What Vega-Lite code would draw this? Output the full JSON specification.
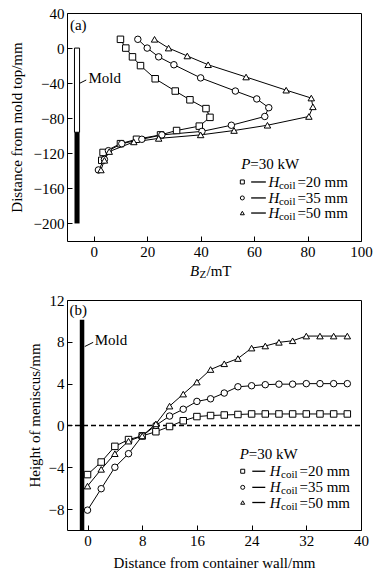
{
  "$schema": "https://vega.github.io/schema/vega-lite/v6.json",
  "padding": {"left": 8, "top": 5, "right": 4, "bottom": 0},
  "spacing": 11,
  "background": "white",
  "config": {
    "font": "Liberation Serif",
    "view": {"stroke": "black", "strokeWidth": 1},
    "axis": {"domain": false, "grid": false, "tickSize": -5, "tickColor": "black", "labelPadding": 8, "labelFontSize": 15, "labelColor": "black", "labelFont": "Liberation Serif", "titleFont": "Liberation Serif", "titleFontSize": 15, "titleFontWeight": "normal", "titleColor": "black", "labelFlush": false, "labelOverlap": false, "labelBound": false},
    "text": {"font": "Liberation Serif", "fontSize": 15, "color": "black"}
  },
  "resolve": {"scale": {"x": "independent", "y": "independent"}},
  "vconcat": [
    {
      "width": 294,
      "height": 228,
      "encoding": {
        "x": {"field": "x", "type": "quantitative", "scale": {"domain": [-10, 100], "nice": false, "zero": false}, "axis": {"title": null, "values": [0, 20, 40, 60, 80, 100]}},
        "y": {"field": "y", "type": "quantitative", "scale": {"domain": [-220, 40], "nice": false, "zero": false}, "axis": {"title": "Distance from mold top/mm", "values": [-200, -160, -120, -80, -40, 0, 40], "titlePadding": 9}}
      },
      "layer": [
        {
          "data": {"values": [{"x": -7.2, "x2": -5.3, "y": 0, "y2": -96}]},
          "mark": {"type": "rect", "fill": "white", "stroke": "black", "strokeWidth": 1},
          "encoding": {"x2": {"field": "x2"}, "y2": {"field": "y2"}}
        },
        {
          "data": {"values": [{"x": -7.2, "x2": -5.3, "y": -96, "y2": -200}]},
          "mark": {"type": "rect", "fill": "black"},
          "encoding": {"x2": {"field": "x2"}, "y2": {"field": "y2"}}
        },
        {
          "data": {"name": "bz"},
          "mark": {"type": "line", "color": "black", "strokeWidth": 1},
          "encoding": {"detail": {"field": "s"}, "order": {"field": "i", "type": "quantitative"}}
        },
        {
          "data": {"name": "bz"},
          "mark": {"type": "point", "filled": true, "fill": "white", "stroke": "black", "strokeWidth": 1, "size": 42, "opacity": 1},
          "encoding": {"shape": {"field": "s", "type": "nominal", "scale": {"domain": ["20", "35", "50"], "range": ["square", "circle", "triangle-up"]}, "legend": null}}
        },
        {
          "data": {"values": [{"x": -5.3, "x2": -2.8, "y": -40.2, "y2": -36.4}]},
          "mark": {"type": "rule", "color": "black", "strokeWidth": 1},
          "encoding": {"x2": {"field": "x2"}, "y2": {"field": "y2"}}
        },
        {
          "data": {"values": [{"x": -5.8, "y": 26.4, "t": "(a)"}]},
          "mark": {"type": "text", "align": "center", "baseline": "middle"},
          "encoding": {"text": {"field": "t"}}
        },
        {
          "data": {"values": [{"x": -2.0, "y": -34, "t": "Mold"}, {"x": 58.6, "y": -132.2, "t": "=30 kW"}, {"x": 76.2, "y": -152.7, "t": "=20 mm"}, {"x": 76.2, "y": -170.9, "t": "=35 mm"}, {"x": 76.2, "y": -188.1, "t": "=50 mm"}, {"x": 42.2, "y": -254.5, "t": "/mT"}]},
          "mark": {"type": "text", "align": "left", "baseline": "middle"},
          "encoding": {"text": {"field": "t"}}
        },
        {
          "data": {"values": [{"x": 55.2, "y": -132.2, "t": "P"}, {"x": 65.4, "y": -152.7, "t": "H"}, {"x": 65.4, "y": -170.9, "t": "H"}, {"x": 65.4, "y": -188.1, "t": "H"}, {"x": 36.0, "y": -254.5, "t": "B"}]},
          "mark": {"type": "text", "align": "left", "baseline": "middle", "fontStyle": "italic"},
          "encoding": {"text": {"field": "t"}}
        },
        {
          "data": {"values": [{"x": 69.3, "y": -152.7, "t": "coil"}, {"x": 69.3, "y": -170.9, "t": "coil"}, {"x": 69.3, "y": -188.1, "t": "coil"}, {"x": 39.6, "y": -254.5, "t": "Z"}]},
          "mark": {"type": "text", "align": "left", "baseline": "middle", "fontSize": 11, "dy": 4},
          "encoding": {"text": {"field": "t"}}
        },
        {
          "data": {"values": [{"x": 58.9, "x2": 64.4, "y": -152.7}, {"x": 58.9, "x2": 64.4, "y": -170.9}, {"x": 58.9, "x2": 64.4, "y": -188.1}]},
          "mark": {"type": "rule", "color": "black", "strokeWidth": 1.3},
          "encoding": {"x2": {"field": "x2"}}
        },
        {
          "data": {"values": [{"s": "20", "x": 55.6, "y": -152.7}, {"s": "35", "x": 55.6, "y": -170.9}, {"s": "50", "x": 55.6, "y": -188.1}]},
          "mark": {"type": "point", "filled": true, "fill": "white", "stroke": "black", "strokeWidth": 1, "size": 16, "opacity": 1},
          "encoding": {"shape": {"field": "s", "type": "nominal", "legend": null}}
        }
      ]
    },
    {
      "width": 294,
      "height": 230,
      "encoding": {
        "x": {"field": "x", "type": "quantitative", "scale": {"domain": [-3, 40], "nice": false, "zero": false}, "axis": {"title": "Distance from container wall/mm", "values": [0, 8, 16, 24, 32, 40], "titlePadding": 7}},
        "y": {"field": "y", "type": "quantitative", "scale": {"domain": [-10, 12], "nice": false, "zero": false}, "axis": {"title": "Height of meniscus/mm", "values": [-8, -4, 0, 4, 8, 12], "titlePadding": 6}}
      },
      "layer": [
        {
          "data": {"values": [{"x": -3, "x2": 40, "y": 0}]},
          "mark": {"type": "rule", "color": "black", "strokeWidth": 1.6, "strokeDash": [5, 3]},
          "encoding": {"x2": {"field": "x2"}}
        },
        {
          "data": {"values": [{"x": -0.8, "y": -10, "y2": 10.1}]},
          "mark": {"type": "rule", "color": "black", "strokeWidth": 4.5},
          "encoding": {"y2": {"field": "y2"}}
        },
        {
          "data": {"values": [{"x": -0.4, "x2": 0.83, "y": 7.55, "y2": 7.95}]},
          "mark": {"type": "rule", "color": "black", "strokeWidth": 1},
          "encoding": {"x2": {"field": "x2"}, "y2": {"field": "y2"}}
        },
        {
          "data": {"name": "hm"},
          "mark": {"type": "line", "color": "black", "strokeWidth": 1},
          "encoding": {"detail": {"field": "s"}, "order": {"field": "x", "type": "quantitative"}}
        },
        {
          "data": {"name": "hm"},
          "mark": {"type": "point", "filled": true, "fill": "white", "stroke": "black", "strokeWidth": 1, "size": 42, "opacity": 1},
          "encoding": {"shape": {"field": "s", "type": "nominal", "scale": {"domain": ["20", "35", "50"], "range": ["square", "circle", "triangle-up"]}, "legend": null}}
        },
        {
          "data": {"values": [{"x": -1.35, "y": 11.0, "t": "(b)"}]},
          "mark": {"type": "text", "align": "center", "baseline": "middle"},
          "encoding": {"text": {"field": "t"}}
        },
        {
          "data": {"values": [{"x": 1.06, "y": 8.2, "t": "Mold"}, {"x": 23.6, "y": -2.75, "t": "=30 kW"}, {"x": 31.0, "y": -4.38, "t": "=20 mm"}, {"x": 31.0, "y": -5.92, "t": "=35 mm"}, {"x": 31.0, "y": -7.37, "t": "=50 mm"}]},
          "mark": {"type": "text", "align": "left", "baseline": "middle"},
          "encoding": {"text": {"field": "t"}}
        },
        {
          "data": {"values": [{"x": 22.25, "y": -2.75, "t": "P"}, {"x": 26.66, "y": -4.38, "t": "H"}, {"x": 26.66, "y": -5.92, "t": "H"}, {"x": 26.66, "y": -7.37, "t": "H"}]},
          "mark": {"type": "text", "align": "left", "baseline": "middle", "fontStyle": "italic"},
          "encoding": {"text": {"field": "t"}}
        },
        {
          "data": {"values": [{"x": 28.3, "y": -4.38, "t": "coil"}, {"x": 28.3, "y": -5.92, "t": "coil"}, {"x": 28.3, "y": -7.37, "t": "coil"}]},
          "mark": {"type": "text", "align": "left", "baseline": "middle", "fontSize": 11, "dy": 4},
          "encoding": {"text": {"field": "t"}}
        },
        {
          "data": {"values": [{"x": 24.1, "x2": 26.0, "y": -4.38}, {"x": 24.1, "x2": 26.0, "y": -5.92}, {"x": 24.1, "x2": 26.0, "y": -7.37}]},
          "mark": {"type": "rule", "color": "black", "strokeWidth": 1.3},
          "encoding": {"x2": {"field": "x2"}}
        },
        {
          "data": {"values": [{"s": "20", "x": 22.7, "y": -4.38}, {"s": "35", "x": 22.7, "y": -5.92}, {"s": "50", "x": 22.7, "y": -7.37}]},
          "mark": {"type": "point", "filled": true, "fill": "white", "stroke": "black", "strokeWidth": 1, "size": 16, "opacity": 1},
          "encoding": {"shape": {"field": "s", "type": "nominal", "legend": null}}
        }
      ]
    }
  ],
  "datasets": {
    "bz": [
      {"s": "20", "i": 0, "x": 10, "y": 10}, {"s": "20", "i": 1, "x": 12, "y": 0}, {"s": "20", "i": 2, "x": 14.5, "y": -10}, {"s": "20", "i": 3, "x": 17.5, "y": -20}, {"s": "20", "i": 4, "x": 23, "y": -35}, {"s": "20", "i": 5, "x": 30.5, "y": -49}, {"s": "20", "i": 6, "x": 36, "y": -59}, {"s": "20", "i": 7, "x": 42, "y": -69}, {"s": "20", "i": 8, "x": 43.5, "y": -79}, {"s": "20", "i": 9, "x": 39.5, "y": -89}, {"s": "20", "i": 10, "x": 31, "y": -94}, {"s": "20", "i": 11, "x": 25, "y": -99}, {"s": "20", "i": 12, "x": 16, "y": -104}, {"s": "20", "i": 13, "x": 10, "y": -109}, {"s": "20", "i": 14, "x": 3.5, "y": -119}, {"s": "20", "i": 15, "x": 3, "y": -128},
      {"s": "35", "i": 0, "x": 16.5, "y": 10}, {"s": "35", "i": 1, "x": 20, "y": 0}, {"s": "35", "i": 2, "x": 24.3, "y": -10}, {"s": "35", "i": 3, "x": 30, "y": -19}, {"s": "35", "i": 4, "x": 40, "y": -34}, {"s": "35", "i": 5, "x": 53, "y": -49}, {"s": "35", "i": 6, "x": 61, "y": -58}, {"s": "35", "i": 7, "x": 65.5, "y": -68}, {"s": "35", "i": 8, "x": 64, "y": -78}, {"s": "35", "i": 9, "x": 51.5, "y": -88}, {"s": "35", "i": 10, "x": 40.5, "y": -95}, {"s": "35", "i": 11, "x": 25.5, "y": -99}, {"s": "35", "i": 12, "x": 18, "y": -104}, {"s": "35", "i": 13, "x": 10.5, "y": -109}, {"s": "35", "i": 14, "x": 5.5, "y": -117}, {"s": "35", "i": 15, "x": 4, "y": -127}, {"s": "35", "i": 16, "x": 1.75, "y": -139},
      {"s": "50", "i": 0, "x": 22.75, "y": 10}, {"s": "50", "i": 1, "x": 28, "y": 0}, {"s": "50", "i": 2, "x": 35, "y": -9}, {"s": "50", "i": 3, "x": 42.8, "y": -19}, {"s": "50", "i": 4, "x": 57, "y": -33}, {"s": "50", "i": 5, "x": 72, "y": -48}, {"s": "50", "i": 6, "x": 81.4, "y": -57}, {"s": "50", "i": 7, "x": 82, "y": -67}, {"s": "50", "i": 8, "x": 80.5, "y": -78}, {"s": "50", "i": 9, "x": 65, "y": -88}, {"s": "50", "i": 10, "x": 52.5, "y": -94}, {"s": "50", "i": 11, "x": 40, "y": -99}, {"s": "50", "i": 12, "x": 24.3, "y": -103}, {"s": "50", "i": 13, "x": 15, "y": -107}, {"s": "50", "i": 14, "x": 5.8, "y": -118}, {"s": "50", "i": 15, "x": 4, "y": -128}, {"s": "50", "i": 16, "x": 2.7, "y": -139}
    ],
    "hm": [
      {"s": "20", "x": 0, "y": -4.7}, {"s": "20", "x": 2, "y": -3.5}, {"s": "20", "x": 4, "y": -2.0}, {"s": "20", "x": 6, "y": -1.35}, {"s": "20", "x": 8, "y": -1.0}, {"s": "20", "x": 10, "y": -0.6}, {"s": "20", "x": 12, "y": -0.1}, {"s": "20", "x": 14, "y": 0.45}, {"s": "20", "x": 16, "y": 0.85}, {"s": "20", "x": 18, "y": 0.95}, {"s": "20", "x": 20, "y": 1.0}, {"s": "20", "x": 22, "y": 1.05}, {"s": "20", "x": 24, "y": 1.1}, {"s": "20", "x": 26, "y": 1.1}, {"s": "20", "x": 28, "y": 1.1}, {"s": "20", "x": 30, "y": 1.1}, {"s": "20", "x": 32, "y": 1.1}, {"s": "20", "x": 34, "y": 1.1}, {"s": "20", "x": 36, "y": 1.1}, {"s": "20", "x": 38, "y": 1.1},
      {"s": "35", "x": 0, "y": -8.1}, {"s": "35", "x": 2, "y": -6.05}, {"s": "35", "x": 4, "y": -4.0}, {"s": "35", "x": 6, "y": -2.7}, {"s": "35", "x": 8, "y": -1.0}, {"s": "35", "x": 10, "y": 0.0}, {"s": "35", "x": 12, "y": 0.9}, {"s": "35", "x": 14, "y": 1.55}, {"s": "35", "x": 16, "y": 2.3}, {"s": "35", "x": 18, "y": 2.55}, {"s": "35", "x": 20, "y": 3.1}, {"s": "35", "x": 22, "y": 3.7}, {"s": "35", "x": 24, "y": 3.8}, {"s": "35", "x": 26, "y": 3.9}, {"s": "35", "x": 28, "y": 3.95}, {"s": "35", "x": 30, "y": 3.95}, {"s": "35", "x": 32, "y": 4.0}, {"s": "35", "x": 34, "y": 4.0}, {"s": "35", "x": 36, "y": 4.0}, {"s": "35", "x": 38, "y": 4.0},
      {"s": "50", "x": 0, "y": -5.8}, {"s": "50", "x": 2, "y": -4.2}, {"s": "50", "x": 4, "y": -2.7}, {"s": "50", "x": 6, "y": -1.5}, {"s": "50", "x": 8, "y": -1.0}, {"s": "50", "x": 10, "y": 0.15}, {"s": "50", "x": 12, "y": 1.85}, {"s": "50", "x": 14, "y": 3.0}, {"s": "50", "x": 16, "y": 4.15}, {"s": "50", "x": 18, "y": 5.35}, {"s": "50", "x": 20, "y": 5.9}, {"s": "50", "x": 22, "y": 6.4}, {"s": "50", "x": 24, "y": 7.4}, {"s": "50", "x": 26, "y": 7.6}, {"s": "50", "x": 28, "y": 7.95}, {"s": "50", "x": 30, "y": 8.1}, {"s": "50", "x": 32, "y": 8.55}, {"s": "50", "x": 34, "y": 8.55}, {"s": "50", "x": 36, "y": 8.55}, {"s": "50", "x": 38, "y": 8.55}
    ]
  }
}
